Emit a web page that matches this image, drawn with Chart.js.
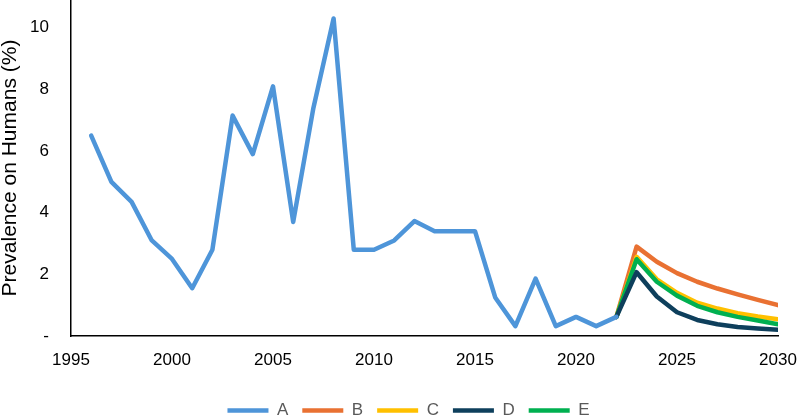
<!DOCTYPE html>
<html>
<head>
<meta charset="utf-8">
<script src="https://cdn.jsdelivr.net/npm/chart.js@4"></script>
<style>
    html, body { margin: 0; padding: 0; background: #fff; }
    #wrap { width: 797px; height: 417px; }
</style>
</head>
<body>
<div id="wrap"><canvas id="chart"></canvas></div>
<script>
// observed series A, 1996-2022
const obsYears = [1996, 1997, 1998, 1999, 2000, 2001, 2002, 2003, 2004, 2005, 2006, 2007, 2008, 2009, 2010, 2011, 2012, 2013, 2014, 2015, 2016, 2017, 2018, 2019, 2020, 2021, 2022];
const seriesA = [6.5, 5.0, 4.35, 3.1, 2.5, 1.55, 2.8, 7.15, 5.9, 8.1, 3.7, 7.4, 10.3, 2.8, 2.8, 3.1, 3.73, 3.4, 3.4, 3.4, 1.25, 0.32, 1.86, 0.32, 0.62, 0.32, 0.62];

// projections, starting from the last observed point
const projYears = [2022, 2023, 2024, 2025, 2026, 2027, 2028, 2029, 2030];
const seriesB = [0.62, 2.9, 2.41, 2.04, 1.76, 1.54, 1.35, 1.17, 1.0];
const seriesC = [0.62, 2.57, 1.84, 1.4, 1.08, 0.89, 0.74, 0.63, 0.54];
const seriesD = [0.62, 2.07, 1.28, 0.77, 0.52, 0.38, 0.29, 0.24, 0.2];
const seriesE = [0.62, 2.49, 1.76, 1.31, 0.98, 0.77, 0.62, 0.5, 0.38];

const seriesNames = ['A', 'B', 'C', 'D', 'E'];
const seriesColors = ['#4e95d9', '#e97132', '#ffc000', '#0e3f5c', '#00b050'];

const yTicks = [0, 2, 4, 6, 8, 10];
const xTicks = [1995, 2000, 2005, 2010, 2015, 2020, 2025, 2030];

function toPoints(xs, ys) {
    return xs.map((x, i) => ({ x: x, y: ys[i] }));
}

const allData = [
    toPoints(obsYears, seriesA),
    toPoints(projYears, seriesB),
    toPoints(projYears, seriesC),
    toPoints(projYears, seriesD),
    toPoints(projYears, seriesE)
];

// lower order is drawn on top
const drawOrder = [0, 4, 3, 1, 2];

const datasets = allData.map((pts, i) => ({
    label: seriesNames[i],
    data: pts,
    borderColor: seriesColors[i],
    backgroundColor: seriesColors[i],
    borderWidth: 4.5,
    borderCapStyle: 'round',
    borderJoinStyle: 'round',
    pointRadius: 0,
    pointStyle: 'line',
    tension: 0,
    order: drawOrder[i]
}));

Chart.defaults.font.family = '"Liberation Sans", Arial, sans-serif';
Chart.defaults.color = '#000';

// legend in the original sits a little right of the canvas centre
const legendShift = {
    id: 'legendShift',
    afterLayout: function (chart) {
        chart.legend.left += 10;
        chart.legend.right += 10;
    }
};

const ctx = document.getElementById('chart').getContext('2d');
new Chart(ctx, {
    type: 'line',
    data: { datasets: datasets },
    options: {
        responsive: true,
        maintainAspectRatio: false,
        animation: false,
        layout: { padding: 0 },
        plugins: {
            legend: {
                position: 'bottom',
                maxHeight: 29,
                labels: {
                    usePointStyle: true,
                    pointStyle: 'line',
                    pointStyleWidth: 41,
                    boxWidth: 41,
                    boxHeight: 6,
                    padding: 14,
                    color: '#595959',
                    font: { size: 17 },
                    sort: (a, b) => a.datasetIndex - b.datasetIndex
                }
            },
            tooltip: { enabled: false }
        },
        scales: {
            x: {
                type: 'linear',
                min: 1995,
                max: 2030,
                grid: { display: false },
                border: { display: true, color: '#000', width: 1.5 },
                ticks: {
                    stepSize: 5,
                    padding: 6,
                    maxRotation: 0,
                    font: { size: 17 },
                    callback: function (value) {
                        return xTicks.includes(value) ? String(value) : '';
                    }
                },
                afterFit: function (scale) {
                    scale.height = 52;
                    scale.paddingLeft = 0;
                    scale.paddingRight = 19;
                }
            },
            y: {
                min: 0,
                max: 10.9,
                grid: { display: false },
                border: { display: true, color: '#000', width: 1.5 },
                title: {
                    display: true,
                    text: 'Prevalence on Humans (%)',
                    font: { size: 21, lineHeight: 1 },
                    padding: { top: 0, bottom: 0 }
                },
                afterBuildTicks: function (scale) {
                    scale.ticks = yTicks.map(v => ({ value: v }));
                },
                ticks: {
                    padding: 14,
                    font: { size: 17 },
                    callback: function (value) {
                        return value === 0 ? '-' : String(value);
                    }
                },
                afterFit: function (scale) {
                    scale.width = 71;
                    scale.paddingTop = 0;
                    scale.paddingBottom = 0;
                }
            }
        }
    },
    plugins: [legendShift]
});
</script>
</body>
</html>
